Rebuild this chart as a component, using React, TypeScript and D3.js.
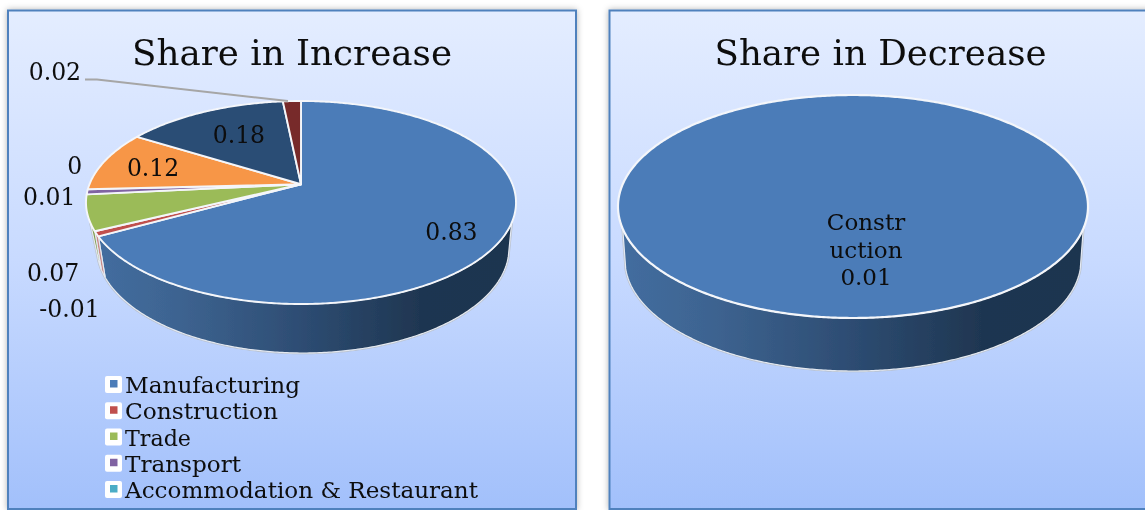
import React from "react";
import * as d3 from "d3";

const legendCategories = ["Manufacturing", "Construction", "Trade", "Transport", "Accommodation & Restaurant"];
const increaseLabels = ["0.83", "-0.01", "0.07", "0.01", "0", "0.12", "0.18", "0.02"];
const increaseValues = [0.83, -0.01, 0.07, 0.01, 0, 0.12, 0.18, 0.02];
const decreaseValues = [0.01];
const sliceColors = ["#4b7cb8", "#c0504d", "#9bbb59", "#8064a2", "#4bacc6", "#f79646", "#2c4d75", "#772c2a"];
const wallColors = ["url(#wall)", "#c98a88", "#7f9a48", "#8064a2", "#4bacc6", "#c9772f", "#2c4d75", "#772c2a"];

const W = 1145, H = 510;
const FONT = "'DejaVu Serif', serif";

// label placement: f = fraction from apex to rim, plus pixel nudge
const labelPlacement = [
  { f: 0.75, dx: 0, dy: 7 },
  { f: 1, dx: -27, dy: 75 },
  { f: 1, dx: -34, dy: 60 },
  { f: 1, dx: -38, dy: 5 },
  { f: 1, dx: -13, dy: -23 },
  { f: 0.755, dx: 0, dy: 2 },
  { f: 0.64, dx: 0, dy: -3 },
  { f: 1, dx: -237, dy: -29 },
];

type Ell = { cy: number; rx: number; ry: number };
type Geo = { cx: number; top: Ell; bot: Ell; a: number };

const leftGeo: Geo = { cx: 303, top: { cy: 202.5, rx: 215, ry: 101.5 }, bot: { cy: 248, rx: 206, ry: 105 }, a: 0.18 };
const rightGeo: Geo = { cx: 853, top: { cy: 206.5, rx: 235, ry: 111.5 }, bot: { cy: 260, rx: 228, ry: 111 }, a: 0 };
const wallStartTop = -0.2; // the visible wall starts a little below the top ellipse's widest point
const wallStartBottom = -0.08; // and reaches the bottom ellipse near its widest point
const easeSpan = 0.25; // radians over which the bottom edge rejoins the top edge's angle

function project(theta: number, r: number, a: number): [number, number] {
  const u0 = r * Math.sin(theta), v0 = r * Math.cos(theta);
  const d = 1 + a * v0;
  return [(u0 * Math.sqrt(1 - a * a)) / d, (v0 + a) / d];
}
const thetaAtW = (w: number, a: number) => Math.acos((w - a) / (1 - a * w));
function scales(cx: number, e: Ell) {
  return {
    x: d3.scaleLinear().domain([-1, 1]).range([cx - e.rx, cx + e.rx]),
    y: d3.scaleLinear().domain([-1, 1]).range([e.cy + e.ry, e.cy - e.ry]),
  };
}
function rimPts(cx: number, a: number, e: Ell, t0: number, t1: number, warp: (t: number) => number = (t) => t): [number, number][] {
  const s = scales(cx, e);
  const n = Math.max(2, Math.ceil(Math.abs(t1 - t0) / 0.01));
  return d3.range(n + 1).map((i) => {
    const [u, w] = project(warp(t0 + ((t1 - t0) * i) / n), 1, a);
    return [s.x(u), s.y(w)] as [number, number];
  });
}
const line = d3.line<[number, number]>();
const topCx = (g: Geo) => (g === leftGeo ? 301 : g.cx);

function Pie3D({ geo, values, colors, walls }: { geo: Geo; values: number[]; colors: string[]; walls: string[] }) {
  const arcs = d3.pie<number>().sort(null).value((d) => Math.abs(d))(values);
  const cxT = topCx(geo);
  const s = scales(cxT, geo.top);
  const [au, aw] = project(0, 0, geo.a);
  const apex: [number, number] = [s.x(au), s.y(aw)];
  const tR = thetaAtW(wallStartTop, geo.a);
  const tL = 2 * Math.PI - tR;
  const shift = tR - thetaAtW(wallStartBottom, geo.a);
  const warp = (t: number) => {
    const fromR = t - tR, fromL = tL - t;
    if (fromR < easeSpan) return t - shift * (1 - fromR / easeSpan);
    if (fromL < easeSpan) return t + shift * (1 - fromL / easeSpan);
    return t;
  };
  const top = (t0: number, t1: number) => rimPts(cxT, geo.a, geo.top, t0, t1);
  const bot = (t0: number, t1: number) => rimPts(geo.cx, geo.a, geo.bot, t0, t1, warp);
  return (
    <g>
      <path d={line([...top(tR, tL), ...bot(tL, tR)])! + "Z"} fill="none" stroke="#b9c2d0" strokeWidth={2.6} />
      {arcs.map((a, i) => {
        const t0 = Math.max(a.startAngle, tR), t1 = Math.min(a.endAngle, tL);
        if (t1 <= t0) return null;
        return (
          <path key={i} d={line([...top(t0, t1), ...bot(t1, t0)])! + "Z"}
            fill={walls[i]} stroke="#e4e9f1" strokeWidth={1.2} />
        );
      })}
      {arcs.map((a, i) =>
        a.endAngle - a.startAngle >= 2 * Math.PI - 1e-6 ? null : a.endAngle === a.startAngle ? null : (
          <path key={i} d={line([apex, ...top(a.startAngle, a.endAngle)])! + "Z"}
            fill={colors[i]} stroke="#f4f6fa" strokeWidth={1.9} strokeLinejoin="round" />
        )
      )}
      {arcs.length === 1 && (
        <path d={line(top(0, 2 * Math.PI))! + "Z"} fill={colors[0]} stroke="#f4f6fa" strokeWidth={2.2} />
      )}
    </g>
  );
}

function labelPos(geo: Geo, theta: number, p: { f: number; dx: number; dy: number }): [number, number] {
  const s = scales(topCx(geo), geo.top);
  const [u, w] = project(theta, 1, geo.a);
  const [au, aw] = project(0, 0, geo.a);
  const ax = s.x(au), ay = s.y(aw), rx = s.x(u), ry = s.y(w);
  return [ax + (rx - ax) * p.f + p.dx, ay + (ry - ay) * p.f + p.dy];
}

const Txt = (props: any) => (
  <text fontFamily={FONT} fill="#0b0b0b" textAnchor="middle" dominantBaseline="central" {...props} />
);

export default function App() {
  const arcs = d3.pie<number>().sort(null).value((d) => Math.abs(d))(increaseValues);
  const last = arcs[arcs.length - 1];
  const lastMid = (last.startAngle + last.endAngle) / 2;
  const leaderEnd = labelPos(leftGeo, lastMid, { f: 1, dx: -4, dy: 0 });
  const legendY = d3.scalePoint<string>().domain(legendCategories).range([385, 490]);
  return (
    <svg width={W} height={H} style={{ position: "absolute", left: 0, top: 0, background: "#fff" }}>
      <defs>
        <linearGradient id="panel" x1="0" y1="0" x2="0" y2="1">
          <stop offset="0" stopColor="#e4edff" />
          <stop offset="0.5" stopColor="#c8daff" />
          <stop offset="1" stopColor="#a2c0fb" />
        </linearGradient>
        <linearGradient id="wall" x1="0" y1="0" x2="1" y2="0">
          <stop offset="0" stopColor="#436d9f" />
          <stop offset="0.2" stopColor="#3d6390" />
          <stop offset="0.5" stopColor="#2d4c72" />
          <stop offset="0.78" stopColor="#1f3651" />
          <stop offset="1" stopColor="#1f3550" />
        </linearGradient>
        <filter id="shadow" x="-5%" y="-5%" width="110%" height="110%">
          <feDropShadow dx="0" dy="0" stdDeviation="3" floodColor="#000" floodOpacity="0.3" />
        </filter>
        <filter id="soft" x="0" y="0" width={W} height={H} filterUnits="userSpaceOnUse">
          <feGaussianBlur stdDeviation="0.4" />
        </filter>
      </defs>

      <rect x={8} y={10.5} width={568} height={498.5} fill="url(#panel)" stroke="#4f81bd" strokeWidth={2} filter="url(#shadow)" />
      <rect x={609.5} y={10.5} width={560} height={498.5} fill="url(#panel)" stroke="#4f81bd" strokeWidth={2} filter="url(#shadow)" />

      <g filter="url(#soft)">
        <Txt x={292} y={52} fontSize={36} textLength={320} lengthAdjust="spacingAndGlyphs">Share in Increase</Txt>
        <Txt x={880.5} y={52} fontSize={36} textLength={332} lengthAdjust="spacingAndGlyphs">Share in Decrease</Txt>

        <Pie3D geo={leftGeo} values={increaseValues} colors={sliceColors} walls={wallColors} />
        <Pie3D geo={rightGeo} values={decreaseValues} colors={sliceColors} walls={wallColors} />

        <path d={line([[85, 79.5], [97, 79.5], leaderEnd])!} fill="none" stroke="#a6a6a6" strokeWidth={2} />

        {arcs.map((a, i) => {
          const [x, y] = labelPos(leftGeo, (a.startAngle + a.endAngle) / 2, labelPlacement[i]);
          return <Txt key={i} x={x} y={y} fontSize={23.5}>{increaseLabels[i]}</Txt>;
        })}

        <Txt x={866} y={222} fontSize={23}>Constr</Txt>
        <Txt x={866} y={250} fontSize={23}>uction</Txt>
        <Txt x={866} y={277} fontSize={23}>{String(decreaseValues[0])}</Txt>

        {legendCategories.map((c, i) => {
          const y = legendY(c)!;
          const widths = [175, 153, 66, 116, 353];
          return (
            <g key={c}>
              <rect x={105} y={y - 9} width={17} height={17} rx={2} fill="#fff" />
              <rect x={110} y={y - 5} width={7.5} height={7.5} fill={sliceColors[i]} />
              <Txt x={125} y={y} fontSize={23} textAnchor="start" textLength={widths[i]} lengthAdjust="spacingAndGlyphs">{c}</Txt>
            </g>
          );
        })}
      </g>
    </svg>
  );
}
